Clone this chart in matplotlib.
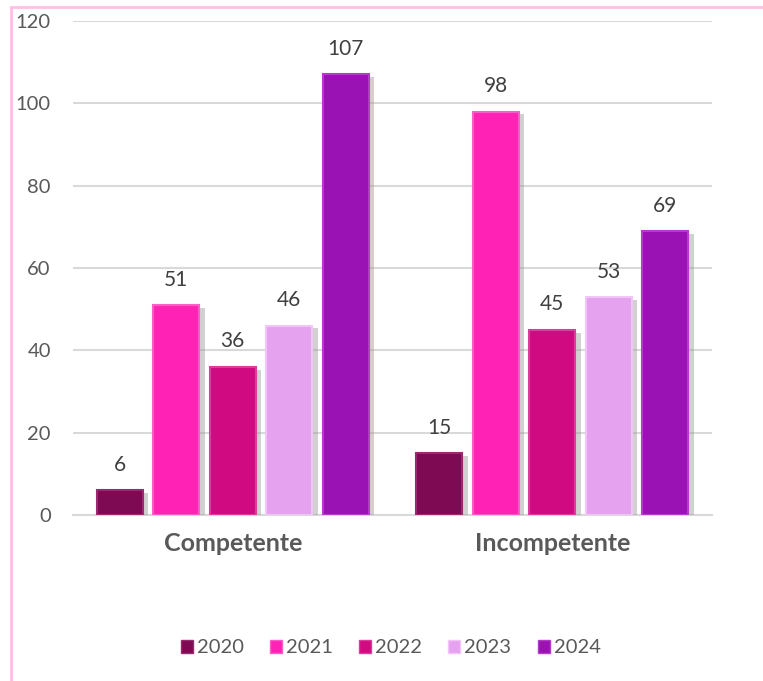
import matplotlib
matplotlib.use("Agg")
import numpy as np
import matplotlib.pyplot as plt
from matplotlib import patheffects
from matplotlib.patches import Patch
from matplotlib.lines import Line2D

categories = ["Competente", "Incompetente"]
years = ["2020", "2021", "2022", "2023", "2024"]
values = {
    "2020": [6, 15],
    "2021": [51, 98],
    "2022": [36, 45],
    "2023": [46, 53],
    "2024": [107, 69],
}
colors = ["#7d0a52", "#ff22b4", "#d00b82", "#e4a2ef", "#9a12b3"]
edge_colors = ["#9a2a70", "#ff5cc8", "#e03a9c", "#f2c4f7", "#b53ccb"]

plt.rcParams["font.family"] = ["Lato", "DejaVu Sans"]
TEXT = "#595959"

fig = plt.figure(figsize=(7.63, 6.81), dpi=100)
ax = fig.add_axes([0.0957, 0.2438, 0.8375, 0.7254])

x = np.arange(len(categories))
width = 0.144
pitch = 0.177
shadow = [patheffects.SimplePatchShadow(offset=(4, -2), shadow_rgbFace="#9a9a9a", alpha=0.45),
          patheffects.Normal()]

for i, (yr, col, ec) in enumerate(zip(years, colors, edge_colors)):
    pos = x + (i - 2) * pitch
    bars = ax.bar(pos, values[yr], width, color=col, edgecolor=ec, linewidth=1.5,
                  zorder=3, label=yr)
    for b in bars:
        b.set_path_effects(shadow)
    for p, v in zip(pos, values[yr]):
        ax.annotate(str(v), (p, v), xytext=(0, 11), textcoords="offset points",
                    ha="center", va="bottom", fontsize=15, color="#404040")

ax.set_xlim(-0.5, 1.5)
ax.set_ylim(0, 120)
ax.set_yticks(range(0, 121, 20))
ax.set_xticks(x)
ax.set_xticklabels(categories, fontsize=18, fontweight="bold", color=TEXT)
ax.tick_params(axis="y", labelsize=14.5, labelcolor=TEXT, length=0, pad=16)
ax.tick_params(axis="x", length=0, pad=12)
ax.yaxis.grid(True, color="#d9d9d9", linewidth=1.5, zorder=0)
ax.set_axisbelow(True)
for s in ["top", "right", "left"]:
    ax.spines[s].set_visible(False)
ax.spines["bottom"].set_color("#d9d9d9")
ax.spines["bottom"].set_linewidth(1.5)

handles = [Patch(facecolor=c, edgecolor=e, linewidth=1) for c, e in zip(colors, edge_colors)]
fig.legend(handles, years, loc="center", bbox_to_anchor=(0.512, 0.0485), ncol=5,
           frameon=False, fontsize=14.5, handlelength=0.6, handleheight=0.6,
           handletextpad=0.2, columnspacing=1.3, labelcolor=TEXT)

# pink frame on the left and top
fig.add_artist(Line2D([0.0144, 0.0144], [0.0, 0.9897], color="#ffc0e6", linewidth=2,
                      transform=fig.transFigure))
fig.add_artist(Line2D([0.0144, 1.0], [0.9897, 0.9897], color="#ffc0e6", linewidth=2,
                      transform=fig.transFigure))

fig.savefig("out.png", dpi=100)
